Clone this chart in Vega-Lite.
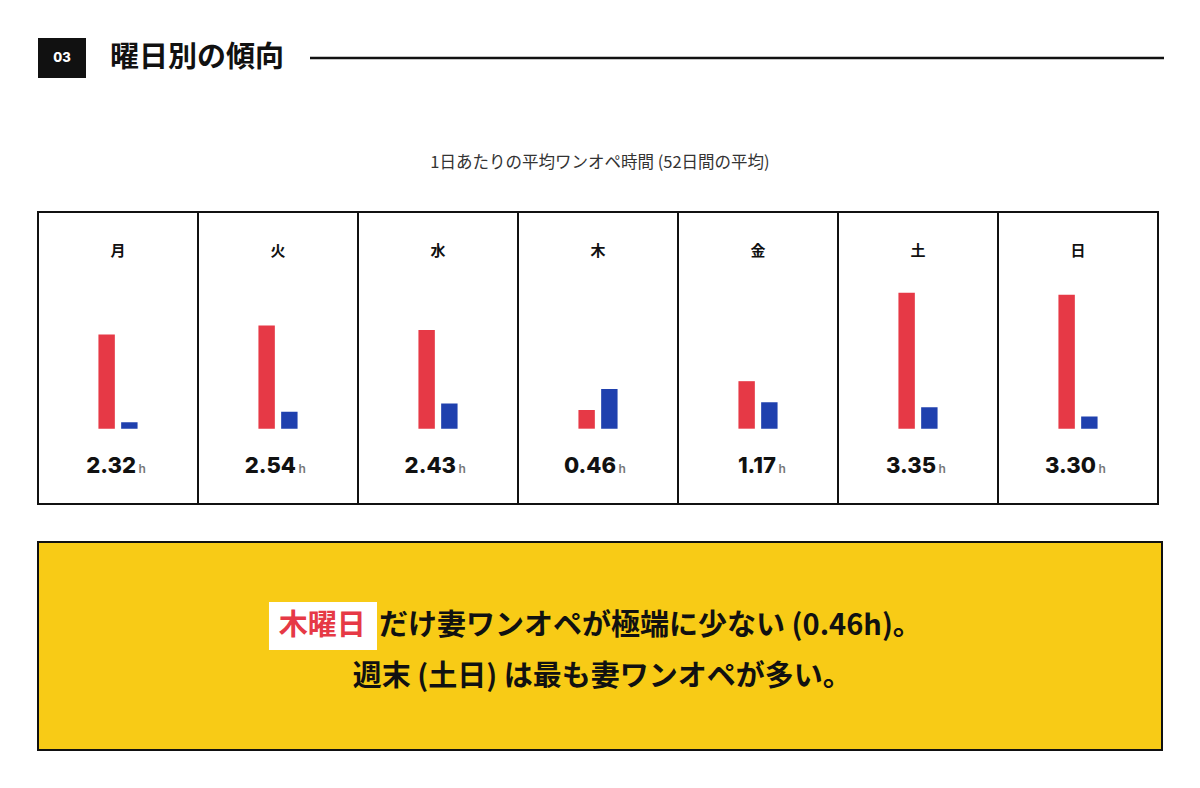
{
  "$schema": "https://vega.github.io/schema/vega-lite/v6.json",
  "background": "white",
  "padding": {"left": 37, "top": 38, "right": 0, "bottom": 0},
  "spacing": 36,
  "config": {
    "font": "Noto Sans CJK JP",
    "view": {"stroke": "#111111", "strokeWidth": 2}
  },
  "vconcat": [
    {
      "spacing": 20,
      "hconcat": [
        {
          "width": 48,
          "height": 40,
          "view": {"fill": "#111111", "stroke": null},
          "data": {"values": [{"label": "03"}]},
          "mark": {"type": "text", "color": "white", "font": "Inter", "fontWeight": 800, "fontSize": 13},
          "encoding": {"text": {"field": "label"}}
        },
        {
          "width": 182,
          "height": 40,
          "view": {"stroke": null},
          "data": {"values": [{"title": "曜日別の傾向"}]},
          "mark": {"type": "text", "color": "#111111", "fontWeight": "bold", "fontSize": 29},
          "encoding": {"text": {"field": "title"}}
        },
        {
          "width": 854,
          "height": 40,
          "view": {"stroke": null},
          "data": {"values": [{"line": 1}]},
          "mark": {"type": "rule", "color": "#111111", "strokeWidth": 2.5},
          "encoding": {
            "y": {"field": "line", "type": "quantitative", "scale": {"domain": [0, 2]}, "axis": null}
          }
        }
      ]
    },
    {
      "width": 1124,
      "height": 61,
      "view": {"stroke": null},
      "data": {"values": [{"subtitle": "1日あたりの平均ワンオペ時間 (52日間の平均)"}]},
      "mark": {"type": "text", "fontSize": 16.5, "color": "#333333", "baseline": "middle", "dy": 18},
      "encoding": {"text": {"field": "subtitle"}}
    },
    {
      "data": {
        "values": [
          {"day": "月", "series": "妻", "hours": 2.32},
          {"day": "月", "series": "夫", "hours": 0.16},
          {"day": "火", "series": "妻", "hours": 2.54},
          {"day": "火", "series": "夫", "hours": 0.42},
          {"day": "水", "series": "妻", "hours": 2.43},
          {"day": "水", "series": "夫", "hours": 0.62},
          {"day": "木", "series": "妻", "hours": 0.46},
          {"day": "木", "series": "夫", "hours": 0.98},
          {"day": "金", "series": "妻", "hours": 1.17},
          {"day": "金", "series": "夫", "hours": 0.65},
          {"day": "土", "series": "妻", "hours": 3.35},
          {"day": "土", "series": "夫", "hours": 0.53},
          {"day": "日", "series": "妻", "hours": 3.30},
          {"day": "日", "series": "夫", "hours": 0.30}
        ]
      },
      "facet": {
        "column": {
          "field": "day",
          "type": "ordinal",
          "sort": ["月", "火", "水", "木", "金", "土", "日"],
          "header": {"labels": false, "title": null}
        }
      },
      "spacing": 0,
      "bounds": "flush",
      "spec": {
        "width": 160,
        "height": 292,
        "layer": [
          {
            "mark": {"type": "bar"},
            "encoding": {
              "x": {
                "field": "series",
                "type": "nominal",
                "scale": {
                  "domain": ["_a", "_b", "妻", "夫", "_c", "_d"],
                  "paddingInner": 0.278,
                  "paddingOuter": 0.66
                },
                "axis": null
              },
              "y": {
                "field": "hours",
                "type": "quantitative",
                "scale": {"domain": [-1.855, 5.337], "nice": false, "zero": false},
                "axis": null
              },
              "y2": {"datum": 0},
              "color": {
                "field": "series",
                "type": "nominal",
                "scale": {"domain": ["妻", "夫"], "range": ["#E63946", "#1F40AE"]},
                "legend": null
              }
            }
          },
          {
            "transform": [{"filter": "datum.series == '妻'"}],
            "mark": {"type": "text", "fontSize": 15, "fontWeight": "bold", "color": "#111111", "baseline": "middle"},
            "encoding": {
              "text": {"field": "day"},
              "y": {"datum": 4.377}
            }
          },
          {
            "transform": [{"filter": "datum.series == '妻'"}],
            "mark": {"type": "text", "font": "Inter", "fontSize": 22, "fontWeight": 800, "color": "#111111", "align": "right", "baseline": "alphabetic", "dx": 18},
            "encoding": {
              "text": {"field": "hours", "type": "quantitative", "format": ".2f"},
              "y": {"datum": -1.1}
            }
          },
          {
            "transform": [{"filter": "datum.series == '妻'"}],
            "mark": {"type": "text", "font": "Inter", "fontSize": 12, "fontWeight": 600, "color": "#777777", "align": "left", "baseline": "alphabetic", "dx": 20.5},
            "encoding": {
              "text": {"value": "h"},
              "y": {"datum": -1.1}
            }
          }
        ]
      }
    },
    {
      "width": 1124,
      "height": 208,
      "view": {"fill": "#F8CB16", "stroke": "#111111", "strokeWidth": 2},
      "data": {
        "values": [
          {"part": "highlight", "text": "木曜日"},
          {"part": "rest", "text": "だけ妻ワンオペが極端に少ない (0.46h)。"},
          {"part": "line2", "text": "週末 (土日) は最も妻ワンオペが多い。"}
        ]
      },
      "layer": [
        {
          "transform": [{"filter": "datum.part == 'highlight'"}],
          "mark": {"type": "rect", "color": "white"},
          "encoding": {
            "x": {"datum": 20.55, "type": "quantitative", "scale": {"domain": [0, 100]}, "axis": null},
            "x2": {"datum": 30.16},
            "y": {"datum": 28.8, "type": "quantitative", "scale": {"domain": [0, 100], "reverse": true}, "axis": null},
            "y2": {"datum": 51.9}
          }
        },
        {
          "transform": [{"filter": "datum.part == 'highlight'"}],
          "mark": {"type": "text", "fontSize": 29, "fontWeight": "bold", "color": "#E63946", "align": "center", "baseline": "middle"},
          "encoding": {
            "text": {"field": "text"},
            "x": {"datum": 25.3, "type": "quantitative"},
            "y": {"datum": 40.6, "type": "quantitative"}
          }
        },
        {
          "transform": [{"filter": "datum.part == 'rest'"}],
          "mark": {"type": "text", "fontSize": 29, "fontWeight": "bold", "color": "#111111", "align": "left", "baseline": "middle"},
          "encoding": {
            "text": {"field": "text"},
            "x": {"datum": 30.34, "type": "quantitative"},
            "y": {"datum": 40.6, "type": "quantitative"}
          }
        },
        {
          "transform": [{"filter": "datum.part == 'line2'"}],
          "mark": {"type": "text", "fontSize": 29, "fontWeight": "bold", "color": "#111111", "align": "center", "baseline": "middle"},
          "encoding": {
            "text": {"field": "text"},
            "x": {"datum": 50.2, "type": "quantitative"},
            "y": {"datum": 64.9, "type": "quantitative"}
          }
        }
      ]
    }
  ]
}
